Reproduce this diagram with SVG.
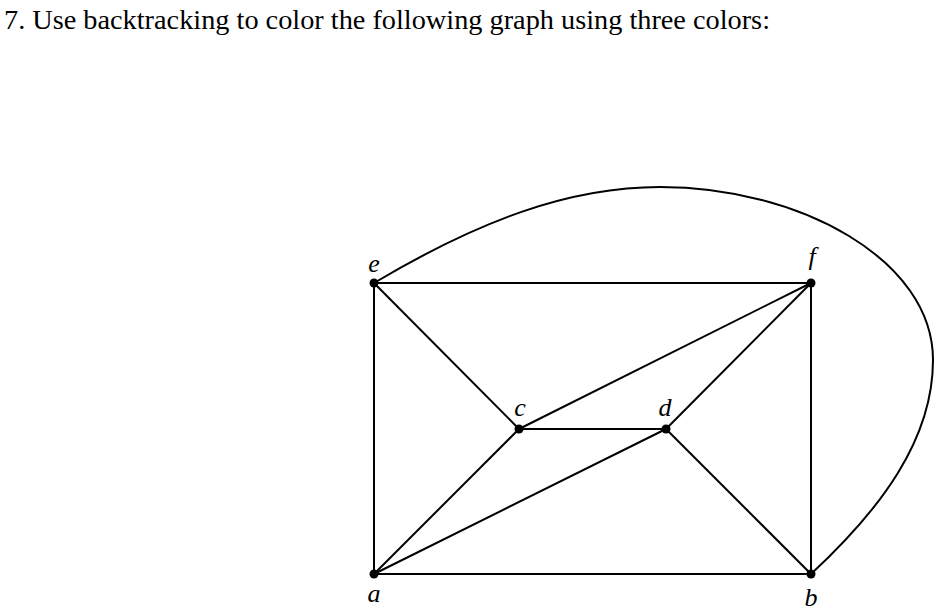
<svg xmlns="http://www.w3.org/2000/svg" width="938" height="611" viewBox="0 0 938 611">
<style>
.t{font-family:"Liberation Serif","DejaVu Serif",serif;font-size:28px;fill:#000}
.lbl{font-family:"Liberation Serif","DejaVu Serif",serif;font-style:italic;font-size:26px;fill:#000;text-anchor:middle}
.e{stroke:#000;stroke-width:2;fill:none}
.n{fill:#000}
</style>
<rect width="938" height="611" fill="#fff"/>
<text class="t" x="4" y="29" textLength="766" lengthAdjust="spacingAndGlyphs">7.  Use backtracking to color the following graph using three colors:</text>
<g id="edges">
<line class="e" x1="374" y1="283" x2="811" y2="283"/>
<line class="e" x1="374" y1="283" x2="374" y2="574"/>
<line class="e" x1="374" y1="283" x2="519" y2="429"/>
<line class="e" x1="519" y1="429" x2="811" y2="283"/>
<line class="e" x1="519" y1="429" x2="666" y2="429"/>
<line class="e" x1="666" y1="429" x2="811" y2="283"/>
<line class="e" x1="519" y1="429" x2="374" y2="574"/>
<line class="e" x1="374" y1="574" x2="666" y2="429"/>
<line class="e" x1="666" y1="429" x2="811" y2="574"/>
<line class="e" x1="374" y1="574" x2="811" y2="574"/>
<line class="e" x1="811" y1="283" x2="811" y2="574"/>
<path class="e" d="M374,283 C480,220 570,187 660,187 C800,187 933,260 933,360 C933,440 880,510 811,574"/>
</g>
<g id="node-e"><circle class="n" cx="374" cy="283" r="4.5"/><text class="lbl" x="374" y="272">e</text></g>
<g id="node-f"><circle class="n" cx="811" cy="283" r="4.5"/><text class="lbl" x="812" y="265">f</text></g>
<g id="node-c"><circle class="n" cx="519" cy="429" r="4.5"/><text class="lbl" x="520" y="416">c</text></g>
<g id="node-d"><circle class="n" cx="666" cy="429" r="4.5"/><text class="lbl" x="665" y="416">d</text></g>
<g id="node-a"><circle class="n" cx="374" cy="574" r="4.5"/><text class="lbl" x="374" y="602">a</text></g>
<g id="node-b"><circle class="n" cx="811" cy="574" r="4.5"/><text class="lbl" x="811" y="606">b</text></g>
</svg>
